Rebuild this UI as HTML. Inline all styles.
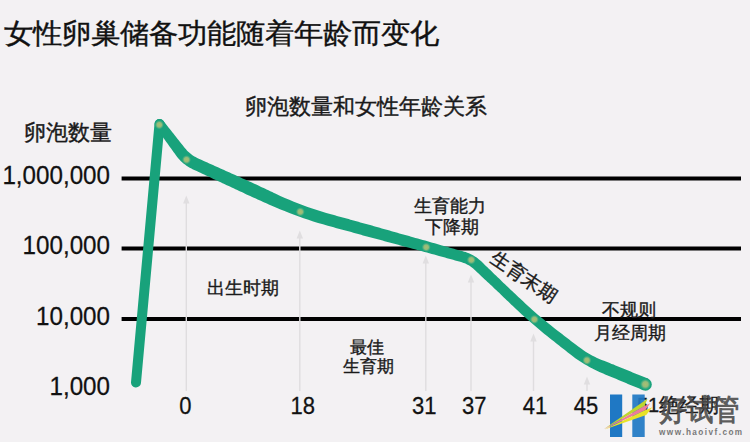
<!DOCTYPE html>
<html><head><meta charset="utf-8">
<style>
html,body{margin:0;padding:0;}
body{width:750px;height:442px;background:#f3f1f3;position:relative;overflow:hidden;font-family:"Liberation Sans",sans-serif;color:#111;}
.t{position:absolute;white-space:nowrap;line-height:1;-webkit-text-stroke:0.38px currentColor;color:#1a1a1a;}
.t.n{-webkit-text-stroke:0.25px currentColor;color:#111;}
.xl{top:394.8px;font-size:22px;transform:scaleY(1.07);transform-origin:0 0;}
svg{position:absolute;left:0;top:0;}
</style></head><body>
<svg width="750" height="442" viewBox="0 0 750 442">
  <g stroke="#000" stroke-width="4.2">
    <line x1="121.6" y1="178.5" x2="741" y2="178.5"/>
    <line x1="121.6" y1="248.5" x2="741" y2="248.5"/>
    <line x1="121.6" y1="319" x2="741" y2="319"/>
  </g>
  <g stroke="#dfdddf" stroke-width="1.4" fill="none">
    <path d="M186.3 391V199.5"/>
    <path d="M299.8 391V234.5"/>
    <path d="M425.8 391V259.5"/>
    <path d="M471 391V278.5"/>
    <path d="M533.5 391V337.5"/>
    <path d="M587 391V380.5"/>
  </g>
  <g fill="#e0dee0">
    <path d="M186.3 195.5L189.5 203.5L183.10000000000002 203.5Z"/>
    <path d="M299.8 230.5L303.0 238.5L296.6 238.5Z"/>
    <path d="M425.8 255.5L429.0 263.5L422.6 263.5Z"/>
    <path d="M471 274.5L474.2 282.5L467.8 282.5Z"/>
    <path d="M533.5 333.5L536.7 341.5L530.3 341.5Z"/>
    <path d="M587 376.5L590.2 384.5L583.8 384.5Z"/>
  </g>
  <g fill="none" stroke="#18a27b" stroke-linecap="round" stroke-linejoin="round">
    <path d="M136 382.5L159.5 124" stroke-width="10"/>
  </g>
  <g fill="#18a27b">
    <path d="M155.6 127.0 L156.8 128.6 L158.0 130.3 L159.2 131.9 L160.4 133.6 L161.6 135.3 L162.8 136.9 L163.9 138.6 L165.1 140.2 L166.3 141.9 L167.5 143.6 L168.7 145.2 L169.9 146.9 L171.1 148.6 L172.3 150.2 L173.5 151.9 L174.7 153.5 L175.9 155.2 L177.0 156.7 L178.2 158.2 L179.4 159.6 L180.7 160.9 L182.1 162.2 L183.5 163.4 L185.0 164.6 L186.5 165.7 L188.1 166.7 L189.7 167.7 L191.4 168.6 L193.0 169.4 L194.9 170.2 L196.7 171.1 L198.6 172.0 L200.4 172.8 L202.3 173.7 L204.1 174.6 L206.0 175.4 L207.8 176.3 L209.6 177.1 L211.5 178.0 L213.3 178.9 L215.2 179.7 L217.0 180.6 L218.9 181.4 L220.7 182.3 L222.5 183.2 L224.4 184.0 L226.2 184.9 L228.1 185.8 L229.9 186.6 L231.8 187.5 L233.6 188.3 L235.4 189.2 L237.3 190.1 L239.1 190.9 L241.0 191.8 L242.8 192.6 L244.6 193.5 L246.5 194.4 L248.3 195.2 L250.2 196.0 L252.1 196.9 L253.9 197.7 L255.8 198.5 L257.6 199.4 L259.5 200.2 L261.3 201.0 L263.2 201.9 L265.0 202.7 L266.9 203.5 L268.8 204.4 L270.6 205.2 L275.3 207.2 L279.9 209.2 L284.6 211.1 L289.4 213.0 L294.1 214.8 L298.9 216.5 L303.6 218.2 L308.4 219.8 L313.2 221.4 L318.1 222.9 L323.0 224.3 L327.8 225.7 L329.8 226.3 L331.8 226.8 L333.7 227.3 L335.7 227.9 L337.6 228.4 L339.6 228.9 L341.5 229.5 L343.5 230.0 L345.4 230.5 L347.4 231.1 L349.4 231.6 L351.3 232.1 L353.3 232.7 L355.2 233.2 L357.2 233.8 L359.1 234.3 L361.1 234.8 L363.0 235.4 L365.0 235.9 L367.0 236.4 L368.9 236.9 L370.9 237.5 L372.8 238.0 L374.8 238.5 L376.8 239.1 L378.7 239.6 L380.7 240.1 L382.6 240.6 L384.6 241.2 L386.5 241.7 L388.5 242.2 L390.5 242.7 L392.4 243.3 L394.4 243.8 L396.3 244.3 L398.3 244.8 L400.3 245.4 L402.2 245.9 L404.2 246.4 L406.1 246.9 L408.1 247.5 L410.1 248.0 L412.5 248.7 L414.9 249.3 L417.3 250.0 L419.7 250.6 L422.1 251.3 L424.5 251.9 L426.9 252.6 L429.3 253.2 L431.7 253.9 L434.2 254.6 L436.6 255.2 L439.0 255.9 L441.0 256.5 L443.0 257.0 L445.0 257.6 L447.0 258.2 L449.1 258.7 L451.1 259.3 L453.1 259.8 L455.1 260.4 L457.1 261.0 L459.2 261.5 L461.1 262.1 L462.4 262.5 L463.6 262.9 L464.8 263.3 L465.9 263.8 L467.0 264.4 L468.1 264.9 L469.2 265.6 L470.2 266.2 L471.2 266.9 L472.2 267.7 L473.2 268.5 L474.2 269.4 L475.6 270.8 L477.1 272.2 L478.6 273.6 L480.1 275.0 L481.6 276.4 L483.0 277.8 L484.5 279.2 L486.0 280.5 L487.5 281.9 L489.0 283.3 L490.5 284.7 L492.0 286.1 L493.4 287.5 L494.9 288.9 L496.4 290.3 L497.9 291.7 L499.4 293.1 L500.8 294.6 L502.3 296.0 L503.8 297.4 L505.2 298.8 L506.7 300.2 L508.2 301.6 L509.7 303.0 L511.1 304.4 L512.6 305.8 L515.7 308.7 L518.7 311.6 L521.8 314.4 L525.0 317.3 L528.1 320.0 L531.3 322.8 L534.5 325.6 L537.7 328.3 L540.9 331.0 L544.1 333.7 L547.4 336.3 L550.7 338.9 L552.4 340.2 L554.1 341.6 L555.8 342.9 L557.4 344.2 L559.1 345.5 L560.8 346.9 L562.5 348.2 L564.2 349.5 L565.8 350.8 L567.5 352.2 L569.2 353.5 L570.9 354.8 L573.1 356.5 L575.3 358.2 L577.6 359.8 L579.9 361.3 L582.3 362.8 L584.6 364.2 L587.0 365.6 L589.4 367.0 L591.9 368.3 L594.3 369.6 L596.9 370.8 L599.4 371.9 L601.3 372.8 L603.2 373.6 L605.1 374.4 L607.0 375.2 L608.9 376.0 L610.8 376.8 L612.7 377.6 L614.6 378.3 L616.5 379.1 L618.4 379.9 L620.3 380.7 L622.2 381.5 L624.1 382.3 L626.0 383.1 L627.9 383.9 L629.8 384.7 L631.7 385.5 L633.6 386.3 L635.5 387.1 L637.4 387.8 L639.3 388.6 L641.2 389.4 L643.1 390.2 L647.9 378.6 L646.0 377.8 L644.1 377.0 L642.2 376.3 L640.3 375.5 L638.4 374.7 L636.4 373.9 L634.5 373.2 L632.6 372.4 L630.7 371.6 L628.8 370.8 L626.9 370.1 L625.0 369.3 L623.1 368.5 L621.2 367.7 L619.3 367.0 L617.4 366.2 L615.5 365.4 L613.6 364.6 L611.6 363.9 L609.7 363.1 L607.8 362.3 L605.9 361.6 L604.0 360.8 L601.6 359.9 L599.3 358.9 L597.0 357.9 L594.7 356.8 L592.5 355.7 L590.3 354.5 L588.1 353.2 L586.0 351.9 L583.8 350.5 L581.8 349.1 L579.7 347.6 L577.6 346.1 L576.0 344.8 L574.3 343.5 L572.6 342.2 L570.9 340.9 L569.2 339.6 L567.5 338.3 L565.8 337.0 L564.1 335.7 L562.4 334.3 L560.7 333.0 L559.0 331.7 L557.3 330.4 L554.1 327.9 L550.8 325.3 L547.6 322.8 L544.4 320.1 L541.3 317.5 L538.1 314.9 L535.0 312.2 L531.9 309.4 L528.9 306.7 L525.8 303.9 L522.8 301.1 L519.8 298.3 L518.3 296.9 L516.8 295.5 L515.3 294.1 L513.9 292.7 L512.4 291.3 L510.9 289.9 L509.4 288.5 L507.9 287.1 L506.5 285.7 L505.0 284.3 L503.5 282.9 L502.0 281.4 L500.6 280.0 L499.1 278.6 L497.6 277.2 L496.2 275.8 L494.7 274.4 L493.2 273.0 L491.8 271.5 L490.3 270.1 L488.8 268.7 L487.4 267.3 L485.9 265.9 L484.4 264.5 L483.0 263.1 L481.5 261.6 L480.3 260.5 L479.0 259.4 L477.6 258.3 L476.3 257.3 L474.9 256.4 L473.4 255.6 L472.0 254.7 L470.4 254.0 L468.9 253.3 L467.3 252.7 L465.7 252.1 L464.1 251.7 L462.1 251.1 L460.1 250.5 L458.0 249.9 L456.0 249.4 L454.0 248.8 L452.0 248.2 L450.0 247.7 L448.0 247.1 L446.0 246.5 L443.9 246.0 L441.9 245.4 L439.5 244.7 L437.1 244.0 L434.7 243.3 L432.3 242.7 L429.9 242.0 L427.5 241.3 L425.1 240.6 L422.7 240.0 L420.2 239.3 L417.8 238.6 L415.4 237.9 L413.0 237.2 L411.1 236.7 L409.1 236.1 L407.2 235.6 L405.2 235.0 L403.3 234.5 L401.3 233.9 L399.4 233.4 L397.4 232.8 L395.5 232.3 L393.5 231.7 L391.6 231.2 L389.6 230.6 L387.7 230.1 L385.7 229.5 L383.7 229.0 L381.8 228.4 L379.8 227.8 L377.9 227.3 L375.9 226.7 L374.0 226.2 L372.0 225.6 L370.1 225.1 L368.1 224.5 L366.2 224.0 L364.2 223.4 L362.3 222.9 L360.3 222.4 L358.4 221.8 L356.4 221.3 L354.5 220.7 L352.5 220.2 L350.5 219.7 L348.6 219.1 L346.6 218.6 L344.7 218.0 L342.7 217.5 L340.8 216.9 L338.8 216.4 L336.9 215.9 L334.9 215.3 L333.0 214.8 L331.0 214.2 L326.3 212.9 L321.6 211.5 L316.9 210.0 L312.2 208.5 L307.6 206.9 L303.0 205.2 L298.4 203.5 L293.8 201.7 L289.3 199.8 L284.8 197.9 L280.3 195.9 L275.8 193.8 L274.0 192.9 L272.2 192.1 L270.3 191.2 L268.5 190.3 L266.6 189.5 L264.8 188.6 L263.0 187.7 L261.1 186.9 L259.3 186.0 L257.4 185.1 L255.6 184.3 L253.8 183.4 L251.9 182.6 L250.1 181.7 L248.2 180.9 L246.3 180.1 L244.5 179.2 L242.6 178.4 L240.8 177.6 L238.9 176.7 L237.1 175.9 L235.2 175.0 L233.4 174.2 L231.5 173.4 L229.7 172.5 L227.8 171.7 L225.9 170.9 L224.1 170.0 L222.2 169.2 L220.4 168.4 L218.5 167.5 L216.7 166.7 L214.8 165.9 L213.0 165.0 L211.1 164.2 L209.2 163.4 L207.4 162.5 L205.5 161.7 L203.7 160.9 L201.8 160.0 L200.0 159.2 L198.2 158.4 L196.8 157.7 L195.6 157.1 L194.4 156.4 L193.2 155.7 L192.1 154.9 L191.0 154.1 L190.0 153.2 L188.9 152.3 L187.9 151.4 L186.9 150.4 L186.0 149.3 L185.0 148.2 L183.8 146.7 L182.5 145.1 L181.2 143.5 L180.0 141.9 L178.7 140.3 L177.4 138.7 L176.1 137.0 L174.9 135.4 L173.6 133.8 L172.3 132.2 L171.0 130.6 L169.8 129.0 L168.5 127.4 L167.2 125.8 L166.0 124.2 L164.7 122.6 L163.4 121.0Z"/>
    <circle cx="159.5" cy="124" r="4.90"/>
    <circle cx="645.5" cy="384.4" r="6.30"/>
  </g>
  <defs><radialGradient id="dg"><stop offset="0" stop-color="#a9bf72"/><stop offset="0.5" stop-color="#94bb7a"/><stop offset="1" stop-color="#5fb488" stop-opacity="0"/></radialGradient></defs>
  <g fill="url(#dg)">
    <circle cx="159.3" cy="124.8" r="4.6"/>
    <circle cx="186.5" cy="159.7" r="4.6"/>
    <circle cx="300.3" cy="211.8" r="4.6"/>
    <circle cx="426.2" cy="247.2" r="4.6"/>
    <circle cx="471.3" cy="259.9" r="4.6"/>
    <circle cx="534.4" cy="319.4" r="4.6"/>
    <circle cx="586.9" cy="360.3" r="4.6"/>
    <circle cx="645.4" cy="384.3" r="5.4"/>
  </g>
</svg>
<div class="t" style="left:4px;top:19.5px;font-size:29px;color:#111;-webkit-text-stroke:0.4px #111;transform:scaleY(0.955);transform-origin:0 0">女性卵巢储备功能随着年龄而变化</div>
<div class="t" style="left:245.4px;top:95.5px;font-size:22.1px">卵泡数量和女性年龄关系</div>
<div class="t" style="left:23.5px;top:122px;font-size:22.3px">卵泡数量</div>
<div class="t n" style="right:640px;top:162.9px;font-size:24.2px;text-align:right;transform:scaleY(1.055);transform-origin:0 0">1,000,000</div>
<div class="t n" style="right:640px;top:233.3px;font-size:24.2px;text-align:right;transform:scaleY(1.055);transform-origin:0 0">100,000</div>
<div class="t n" style="right:640px;top:303.9px;font-size:24.2px;text-align:right;transform:scaleY(1.055);transform-origin:0 0">10,000</div>
<div class="t n" style="right:640px;top:374.3px;font-size:24.2px;text-align:right;transform:scaleY(1.055);transform-origin:0 0">1,000</div>
<div class="t n xl" style="left:179.25px">0</div>
<div class="t n xl" style="left:290.5px">18</div>
<div class="t n xl" style="left:412px">31</div>
<div class="t n xl" style="left:462px">37</div>
<div class="t n xl" style="left:522.8px">41</div>
<div class="t n xl" style="left:573.8px">45</div>
<div class="t" style="left:637px;top:395px;font-size:20px">51绝经期</div>
<div class="t" style="left:207px;top:278.6px;font-size:18.4px">出生时期</div>
<div class="t" style="left:414px;top:196.8px;font-size:18.4px">生育能力</div>
<div class="t" style="left:424.6px;top:217.8px;font-size:18.4px">下降期</div>
<div class="t" style="left:349.6px;top:339px;font-size:17px">最佳</div>
<div class="t" style="left:342.5px;top:357.5px;font-size:17px">生育期</div>
<div class="t" style="left:601.5px;top:300.5px;font-size:18px">不规则</div>
<div class="t" style="left:594px;top:323.5px;font-size:18px">月经周期</div>
<div class="t" style="left:523.6px;top:276.5px;font-size:19px;transform:translate(-50%,-50%) rotate(33.7deg)">生育末期</div>
<!-- watermark -->
<svg width="750" height="442" viewBox="0 0 750 442">
  <rect x="610" y="394.5" width="12.2" height="42.5" fill="#1f78c4"/>
  <rect x="632.3" y="394.5" width="12.4" height="42.5" fill="#1f78c4" opacity="0.92"/>
  <path d="M604 428.9L647.5 398.7L644.5 406.1Z" fill="#bdd62e"/>
  <path d="M604 429.2L644.5 406.1L650.2 403.2L645.5 409.9Z" fill="#ef7d98"/>
  <path d="M604.5 429.6L645.5 409.9L652.3 407.3L646.2 415Z" fill="#e8e228"/>
</svg>
<div class="t" style="left:660px;top:394.5px;font-size:29px;font-weight:700;-webkit-text-stroke:0;color:rgba(72,72,72,0.88);transform:scale(0.92,1.045);transform-origin:0 0">好试管</div>
<div class="t" style="left:659px;top:428.8px;font-size:8.2px;font-weight:700;-webkit-text-stroke:0;color:#787878;letter-spacing:1.45px">www.haoivf.com</div>
</body></html>
